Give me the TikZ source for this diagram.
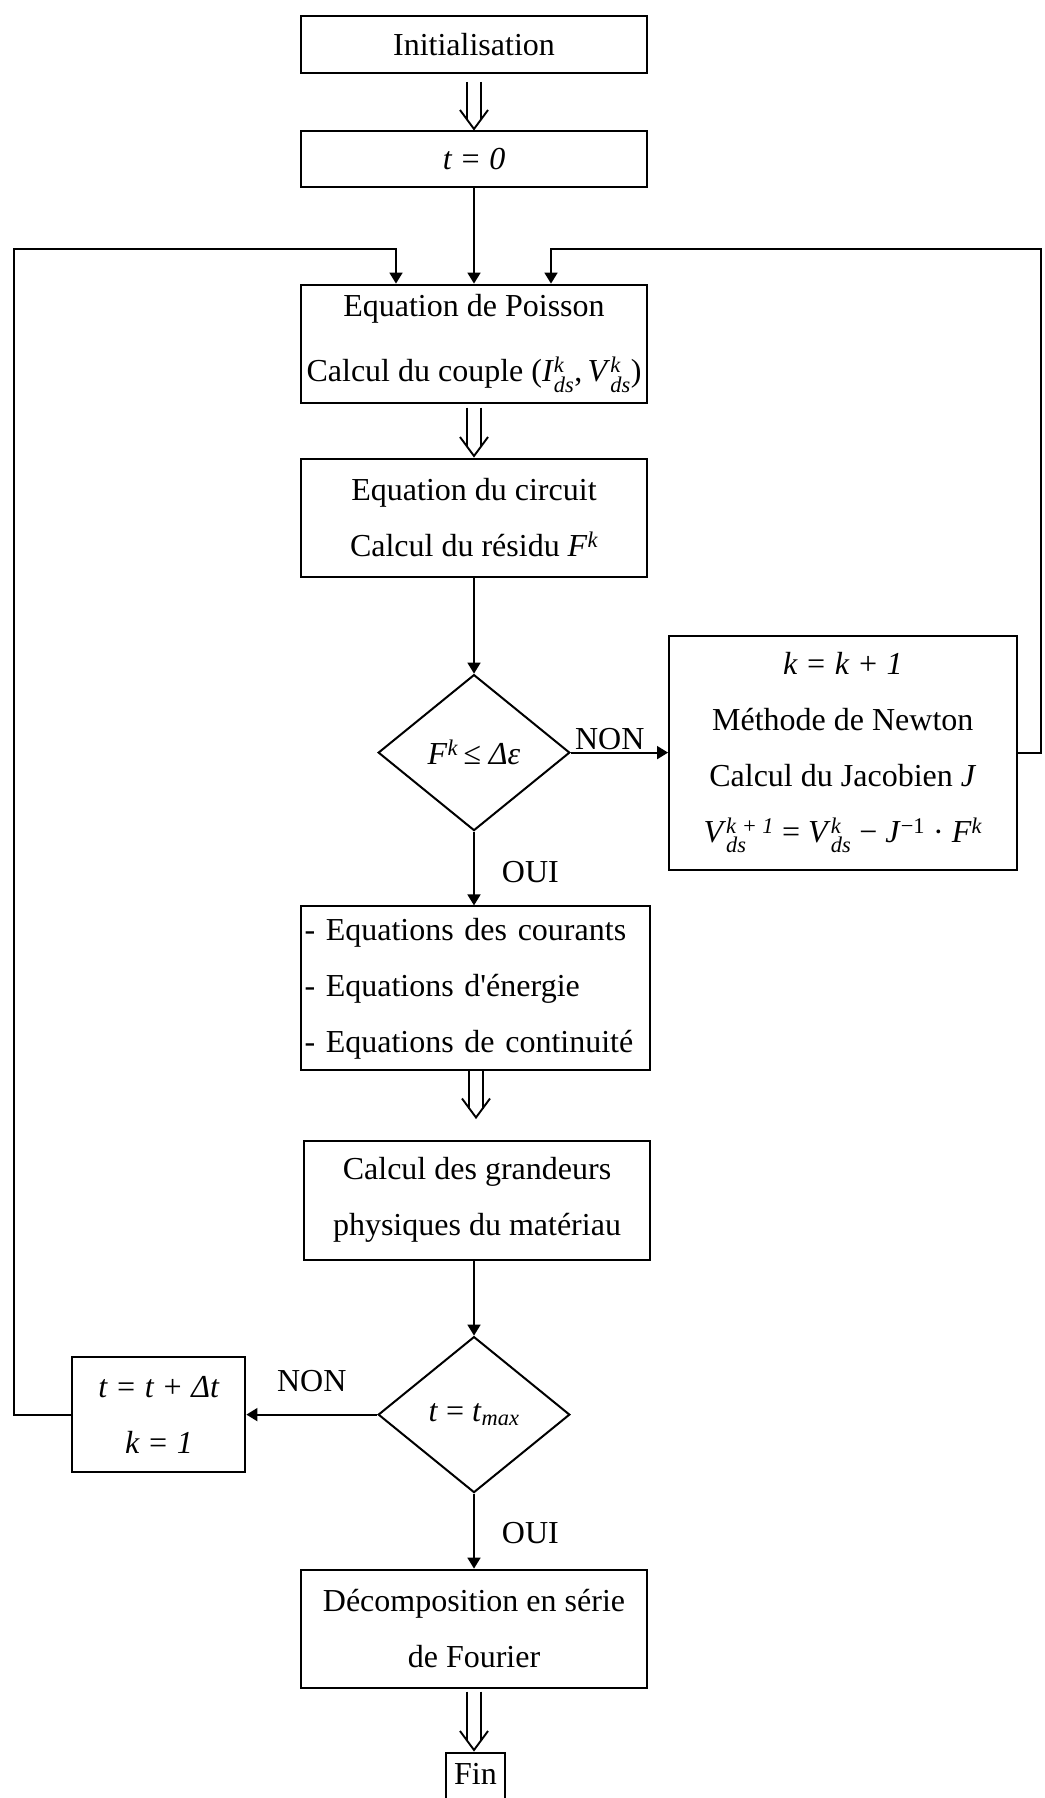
\documentclass[tikz,border=0pt]{standalone}
\usepackage{amsmath}
\usepackage{fontspec}
\setmainfont{Liberation Serif}
\usetikzlibrary{shapes.geometric,arrows.meta,calc}
\newcommand{\iv}[1]{\textit{#1}}
\newcommand{\dblarrow}[2]{%
  \draw[dln] ($(#1)+(-7,0)$) -- ($(#2)+(-7,-9)$);
  \draw[dln] ($(#1)+(7,0)$) -- ($(#2)+(7,-9)$);
  \draw[dln] ($(#2)+(-14,-19)$) -- (#2) -- ($(#2)+(14,-19)$);}
\begin{document}
\begin{tikzpicture}[x=1pt,y=-1pt,
  every node/.style={font=\fontsize{32}{56}\selectfont},
  box/.style={draw, line width=2pt, inner sep=0pt, align=center},
  dia/.style={draw, diamond, line width=2pt, inner sep=0pt, minimum width=191.6pt, minimum height=156pt, aspect=1.2},
  arr/.style={line width=1.8pt, -{Triangle[length=11pt,width=13pt]}},
  dln/.style={line width=1.9pt, line join=miter},
  lab/.style={inner sep=0pt}
]
\useasboundingbox (0,0) rectangle (1044,1798);

\node[box, minimum width=346pt, minimum height=57pt] (init) at (474,44.5) {Initialisation};
\node[box, minimum width=346pt, minimum height=56pt] (t0) at (474,159) {\iv{t = 0}};
\node[box, minimum width=346pt, minimum height=118pt, font=\fontsize{32}{65}\selectfont] (poisson) at (474,343.6)
  {Equation de Poisson\\Calcul du couple (\iv{I}$^{\iv{k}}_{\iv{ds}}$,\,\iv{V}$^{\iv{k}}_{\iv{ds}}$)};
\node[box, minimum width=346pt, minimum height=118pt] (circuit) at (474,518)
  {Equation du circuit\\Calcul du résidu \iv{F}$^{\iv{k}}$};
\node[dia] (d1) at (474,752.6) {\iv{F}$^{\iv{k}}$\,\iv{≤ Δε}};
\node[box, minimum width=347.5pt, minimum height=234pt] (newton) at (842.8,752.6)
  {\iv{k = k + 1}\\Méthode de Newton\\Calcul du Jacobien \iv{J}\\
   \iv{V}$^{\iv{k + 1}}_{\iv{ds}}$ = \iv{V}$^{\iv{k}}_{\iv{ds}}$ − \iv{J}$^{\text{−1}}$ · \iv{F}$^{\iv{k}}$};
\node[box, align=left, text width=341pt, inner xsep=4pt, minimum height=164pt] (eq) at (475,988.4)
  {- Equations des courants\\- Equations d\textquotesingle énergie\\- Equations de continuité};
\node[box, minimum width=346.5pt, minimum height=119pt] (grand) at (477,1200)
  {Calcul des grandeurs\\physiques du matériau};
\node[dia] (d2) at (474,1414.6) {\iv{t} = \iv{t}$_{\iv{max}}$};
\node[box, minimum width=173pt, minimum height=115pt] (tbox) at (158.9,1414.6)
  {\iv{t = t + Δt}\\\iv{k = 1}};
\node[box, minimum width=346.5pt, minimum height=118pt] (four) at (474,1628.6)
  {Décomposition en série\\de Fourier};
\node[box, anchor=north, minimum width=58.5pt, text height=31pt, text depth=30pt] (fin) at (475.5,1752) {Fin};

\coordinate (LT) at (14,249);
\coordinate (RT) at (1041,249);

% double arrows
\coordinate (a1s) at ([yshift=-8pt]init.south);
\coordinate (a1e) at ([yshift=1pt]t0.north);
\coordinate (a2s) at ([yshift=-4pt]poisson.south);
\coordinate (a2e) at ([yshift=2pt]circuit.north);
\coordinate (a3s) at ([xshift=1pt]eq.south);
\coordinate (a3e) at ([xshift=1pt,yshift=22pt]eq.south |- grand.north);
\coordinate (a4s) at ([yshift=-3pt]four.south);
\coordinate (a4e) at ([yshift=2pt]four.south |- fin.north);
\dblarrow{a1s}{a1e}
\dblarrow{a2s}{a2e}
\dblarrow{a3s}{a3e}
\dblarrow{a4s}{a4e}

\draw[arr] (t0.south) -- (poisson.north);
\draw[arr] (tbox.west) -| (LT) -| ([xshift=-78pt]poisson.north);
\draw[arr] (newton.east) -| (RT) -| ([xshift=77pt]poisson.north);
\draw[arr] (circuit.south) -- (d1.north);
\draw[arr] (d1.east) -- node[lab, pos=0.4, above=2pt]{NON} (newton.west);
\draw[arr] (d1.south) -- node[lab, pos=0.553, right=27pt]{OUI} (d1.south |- eq.north);
\draw[arr] (d2.north |- grand.south) -- (d2.north);
\draw[arr] (d2.west) -- node[lab, midway, above=22pt]{NON} (tbox.east);
\draw[arr] (d2.south) -- node[lab, pos=0.52, right=27pt]{OUI} (four.north);
\end{tikzpicture}
\end{document}
